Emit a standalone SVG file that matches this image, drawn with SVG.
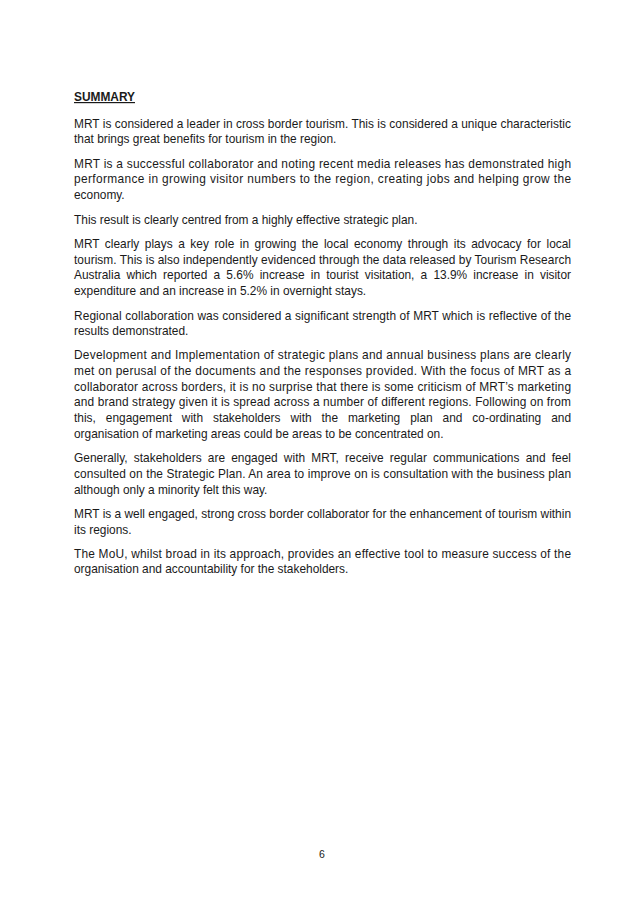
<svg xmlns="http://www.w3.org/2000/svg" width="644" height="911" viewBox="0 0 644 911">
<style>
text{font-family:"Liberation Sans",Arial,sans-serif;font-size:11.9px;fill:#1a1a1a}
.h{font-weight:bold;text-decoration:underline}
</style>
<rect width="644" height="911" fill="#ffffff"/>
<g id="page">
<text class="h" x="74" y="101">SUMMARY</text>
<text x="74" y="127.5" textLength="497" lengthAdjust="spacing">MRT is considered a leader in cross border tourism. This is considered a unique characteristic</text>
<text x="74" y="143">that brings great benefits for tourism in the region.</text>
<text x="74" y="167.5" textLength="497" lengthAdjust="spacing">MRT is a successful collaborator and noting recent media releases has demonstrated high</text>
<text x="74" y="183" textLength="497" lengthAdjust="spacing">performance in growing visitor numbers to the region, creating jobs and helping grow the</text>
<text x="74" y="198.5">economy.</text>
<text x="74" y="223.5">This result is clearly centred from a highly effective strategic plan.</text>
<text x="74" y="248" word-spacing="2.2" textLength="497" lengthAdjust="spacing">MRT clearly plays a key role in growing the local economy through its advocacy for local</text>
<text x="74" y="263.5" textLength="497" lengthAdjust="spacing">tourism.  This is also independently evidenced through the data released by Tourism Research</text>
<text x="74" y="279" word-spacing="2.9" textLength="497" lengthAdjust="spacing">Australia which reported a 5.6% increase in tourist visitation, a 13.9% increase in visitor</text>
<text x="74" y="294.5">expenditure and an increase in 5.2% in overnight stays.</text>
<text x="74" y="319.5" textLength="497" lengthAdjust="spacing">Regional collaboration was considered a significant strength of MRT which is reflective of the</text>
<text x="74" y="335">results demonstrated.</text>
<text x="74" y="359" textLength="497" lengthAdjust="spacing">Development and Implementation of strategic plans and annual business plans are clearly</text>
<text x="74" y="374.8" textLength="497" lengthAdjust="spacing">met on perusal of the documents and the responses provided.  With the focus of MRT as a</text>
<text x="74" y="390.6" textLength="497" lengthAdjust="spacing">collaborator across borders, it is no surprise that there is some criticism of MRT’s marketing</text>
<text x="74" y="406.4" textLength="497" lengthAdjust="spacing">and brand strategy given it is spread across a number of different regions.  Following on from</text>
<text x="74" y="422.2" word-spacing="6.6" textLength="497" lengthAdjust="spacing">this, engagement with stakeholders with the marketing plan and co-ordinating and</text>
<text x="74" y="438">organisation of marketing areas could be areas to be concentrated on.</text>
<text x="74" y="462" word-spacing="2.8" textLength="497" lengthAdjust="spacing">Generally, stakeholders are engaged with MRT, receive regular communications and feel</text>
<text x="74" y="477.8" textLength="497" lengthAdjust="spacing">consulted on the Strategic Plan.  An area to improve on is consultation with the business plan</text>
<text x="74" y="493.6">although only a minority felt this way.</text>
<text x="74" y="518" textLength="497" lengthAdjust="spacing">MRT is a well engaged, strong cross border collaborator for the enhancement of tourism within</text>
<text x="74" y="533.7">its regions.</text>
<text x="74" y="557.5" textLength="497" lengthAdjust="spacing">The MoU, whilst broad in its approach, provides an effective tool to measure success of the</text>
<text x="74" y="573.2">organisation and accountability for the stakeholders.</text>
<text x="322" y="858" text-anchor="middle" style="font-size:10.5px">6</text>
</g>
</svg>
